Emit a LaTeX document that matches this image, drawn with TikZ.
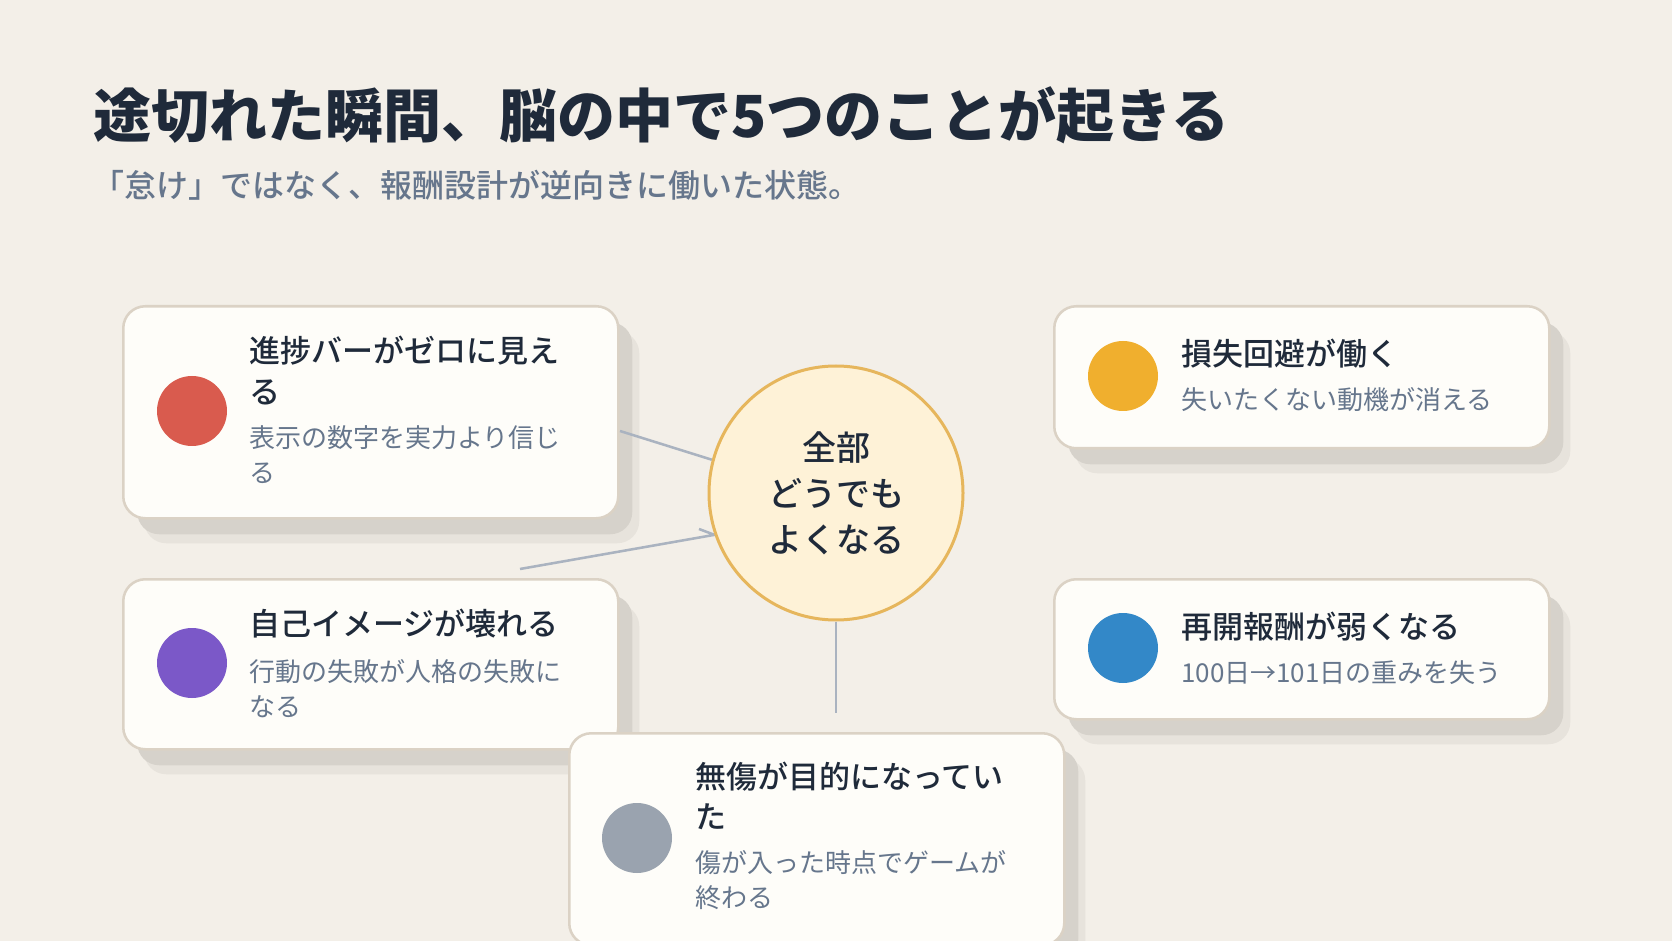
\documentclass[tikz,border=0pt]{standalone}
\usepackage{fontspec}
\setmainfont{Noto Sans CJK JP}
\newfontfamily\jpmed{Noto Sans CJK JP}[UprightFont=* Medium]
\usetikzlibrary{shadows}
\definecolor{bg}{HTML}{F3EFE8}
\definecolor{cardfill}{HTML}{FEFDF9}
\definecolor{cardborder}{HTML}{DBD2C5}
\definecolor{shade}{HTML}{D6D2CB}
\definecolor{halo}{HTML}{E7E3DC}
\definecolor{ink}{HTML}{1F2A3A}
\definecolor{subgray}{HTML}{66768C}
\definecolor{conncol}{HTML}{AAB3C0}
\definecolor{hubfill}{HTML}{FEF2D7}
\definecolor{hubborder}{HTML}{E6B65C}
\definecolor{cred}{HTML}{D95B4E}
\definecolor{corange}{HTML}{F0AF2E}
\definecolor{cpurple}{HTML}{7B58C8}
\definecolor{cblue}{HTML}{3388C8}
\definecolor{cgray}{HTML}{9AA3AF}
\pgfdeclarelayer{bglayer}
\pgfdeclarelayer{cardlayer}
\pgfdeclarelayer{linelayer}
\pgfsetlayers{bglayer,cardlayer,linelayer,main}
\begin{document}
\begin{tikzpicture}[x=0.75pt,y=-0.75pt,
  card/.style={draw=cardborder, line width=1.9pt, fill=cardfill, rounded corners=16.5pt,
    minimum width=371.25pt, anchor=north west, inner sep=0pt,
    drop shadow={shadow xshift=15.75pt, shadow yshift=-18.75pt, fill=halo, opacity=1},
    drop shadow={shadow xshift=10.5pt, shadow yshift=-12pt, fill=shade, opacity=1}},
  dot/.style={circle, inner sep=0pt, minimum size=52.5pt},
  ttl/.style={anchor=base west, inner sep=0pt, text=ink, font=\jpmed\fontsize{23.25pt}{30pt}\selectfont},
  sub/.style={anchor=base west, inner sep=0pt, text=subgray, font=\fontsize{19.5pt}{26pt}\selectfont},
  hubtxt/.style={anchor=base, inner sep=0pt, text=ink, font=\jpmed\fontsize{25.5pt}{34pt}\selectfont},
  conn/.style={draw=conncol, line width=1.9pt}]
\begin{pgfonlayer}{bglayer}
\fill[bg] (0,0) rectangle (1672,941);
\end{pgfonlayer}
\useasboundingbox (0,0) rectangle (1672,941);
\clip (0,0) rectangle (1672,941);

% headings
\node[anchor=base west, inner sep=0pt, text=ink, font=\fontsize{43.5pt}{50pt}\selectfont\bfseries] (title) at (93,138) {途切れた瞬間、脳の中で5つのことが起きる};
\node[anchor=base west, inner sep=0pt, text=subgray, font=\jpmed\fontsize{24pt}{30pt}\selectfont] (subtitle) at (92,198) {「怠け」ではなく、報酬設計が逆向きに働いた状態。};

% hub
\node[circle, draw=hubborder, line width=2.25pt, fill=hubfill, minimum size=190.5pt, inner sep=0pt] (hub) at (836,493) {};
\node[hubtxt] (h1) at (836,460) {全部};
\node[hubtxt] (h2) at (836,506) {どうでも};
\node[hubtxt] (h3) at (836,552) {よくなる};

% cards
\begin{pgfonlayer}{cardlayer}
\node[card, minimum height=159pt] (c1) at (122,305) {};
\node[card, minimum height=106.5pt] (c2) at (1053,305) {};
\node[card, minimum height=127.5pt] (c3) at (122,578) {};
\node[card, minimum height=105pt] (c4) at (1053,578) {};
\node[card, minimum height=159pt] (c5) at (568,732) {};
\end{pgfonlayer}

% connectors
\coordinate (l1s) at (620,431);
\coordinate (l2s) at (520,569);
\coordinate (stub) at (699,529);
\coordinate (l3e) at (836,713);
\begin{pgfonlayer}{linelayer}
\draw[conn] (l1s) -- (hub.165);
\draw[conn] (l2s) -- (hub.199) -- (stub);
\draw[conn] (hub.south) -- (l3e);
\end{pgfonlayer}

% card 1
\node[dot, fill=cred] (d1) at (192,411) {};
\node[ttl] (t1a) at (249,363) {進捗バーがゼロに見え};
\node[ttl] (t1b) at (249,403) {る};
\node[sub] (s1a) at (249,448) {表示の数字を実力より信じ};
\node[sub] (s1b) at (249,483) {る};

% card 2
\node[dot, fill=corange] (d2) at (1123,376) {};
\node[ttl] (t2a) at (1181,366) {損失回避が働く};
\node[sub] (s2a) at (1181,410) {失いたくない動機が消える};

% card 3
\node[dot, fill=cpurple] (d3) at (192,663) {};
\node[ttl] (t3a) at (249,635) {自己イメージが壊れる};
\node[sub] (s3a) at (249,681) {行動の失敗が人格の失敗に};
\node[sub] (s3b) at (249,716) {なる};

% card 4
\node[dot, fill=cblue] (d4) at (1123,648) {};
\node[ttl] (t4a) at (1181,638) {再開報酬が弱くなる};
\node[sub] (s4a) at (1181,682) {100日→101日の重みを失う};

% card 5
\node[dot, fill=cgray] (d5) at (637,838) {};
\node[ttl] (t5a) at (695,788) {無傷が目的になってい};
\node[ttl] (t5b) at (695,828) {た};
\node[sub] (s5a) at (695,872) {傷が入った時点でゲームが};
\node[sub] (s5b) at (695,907) {終わる};
\end{tikzpicture}
\end{document}
